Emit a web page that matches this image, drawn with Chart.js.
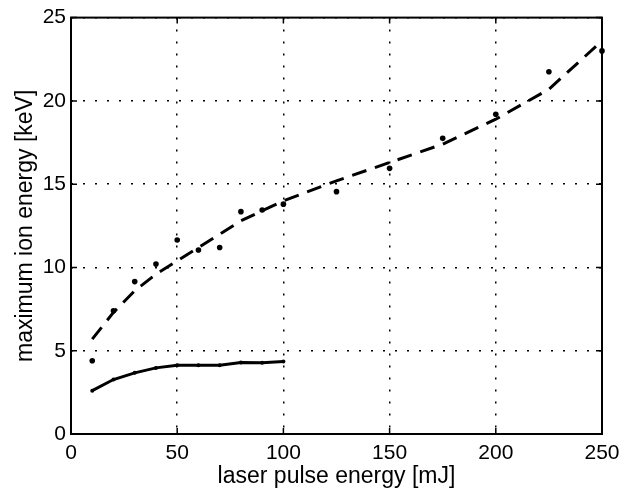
<!DOCTYPE html>
<html>
<head>
<meta charset="utf-8">
<script src="https://cdn.jsdelivr.net/npm/chart.js@4/dist/chart.umd.min.js"></script>
<style>
  html, body { margin: 0; padding: 0; background: #fff; }
  #wrap { width: 632px; height: 491px; }
</style>
</head>
<body>
<div id="wrap"><canvas id="chart" width="632" height="491"></canvas></div>
<script>
// measured points (dots)
let measX = [10, 20, 30, 40, 50, 60, 70, 80, 90, 100, 125, 150, 175, 200, 225, 250]
let measY = [4.4, 7.4, 9.15, 10.2, 11.65, 11.05, 11.2, 13.35, 13.45, 13.8, 14.55, 15.95, 17.75, 19.2, 21.75, 23.0]

// dashed fit curve
let fitX = [10, 20, 30, 40, 50, 60, 70, 80, 90, 100, 125, 150, 175, 200, 225, 250]
let fitY = [5.7, 7.3, 8.6, 9.6, 10.4, 11.2, 12.0, 12.8, 13.4, 14.0, 15.2, 16.3, 17.4, 18.9, 20.7, 23.6]

// solid line
let lowX = [10, 20, 30, 40, 50, 60, 70, 80, 90, 100]
let lowY = [2.6, 3.27, 3.67, 3.97, 4.13, 4.13, 4.13, 4.29, 4.28, 4.35]

let xTicks = [0, 50, 100, 150, 200, 250]
let yTicks = [0, 5, 10, 15, 20, 25]

const family = "'Liberation Sans', Arial, Helvetica, sans-serif"
const tickFont = { family: family, size: 21 }
const titleFont = { family: family, size: 23 }

function pts(xs, ys) {
    return xs.map((x, i) => ({ x: x, y: ys[i] }))
}

const boxPlugin = {
    id: 'box',
    afterDraw(chart) {
        const ctx = chart.ctx
        const a = chart.chartArea
        const xs = chart.scales.x
        const ys = chart.scales.y
        ctx.save()
        ctx.strokeStyle = '#000'
        ctx.lineWidth = 2
        ctx.setLineDash([])
        ctx.strokeRect(a.left, a.top, a.right - a.left, a.bottom - a.top)
        ctx.lineWidth = 1.5
        ctx.beginPath()
        xTicks.forEach(v => {
            const px = xs.getPixelForValue(v)
            ctx.moveTo(px, a.bottom); ctx.lineTo(px, a.bottom - 6)
            ctx.moveTo(px, a.top); ctx.lineTo(px, a.top + 6)
        })
        yTicks.forEach(v => {
            const py = ys.getPixelForValue(v)
            ctx.moveTo(a.left, py); ctx.lineTo(a.left + 6, py)
            ctx.moveTo(a.right, py); ctx.lineTo(a.right - 6, py)
        })
        ctx.stroke()
        ctx.restore()
    }
}

new Chart(document.getElementById('chart'), {
    type: 'scatter',
    data: {
        datasets: [
            {
                data: pts(fitX, fitY),
                showLine: true,
                borderColor: '#000',
                borderWidth: 3,
                borderDash: [15, 9],
                pointRadius: 0,
                tension: 0,
                fill: false
            },
            {
                data: pts(measX, measY),
                showLine: false,
                backgroundColor: '#000',
                borderColor: '#000',
                pointRadius: 2.8,
                pointBorderWidth: 0,
                clip: 6
            },
            {
                data: pts(lowX, lowY),
                showLine: true,
                borderColor: '#000',
                backgroundColor: '#000',
                borderWidth: 3,
                pointRadius: 2,
                pointBorderWidth: 0,
                tension: 0,
                fill: false
            }
        ]
    },
    options: {
        responsive: false,
        animation: false,
        devicePixelRatio: 1,
        layout: { padding: { top: 16, right: 30, left: 0, bottom: 0 } },
        plugins: {
            legend: { display: false },
            tooltip: { enabled: false }
        },
        scales: {
            x: {
                type: 'linear',
                min: 0,
                max: 250,
                afterFit: s => { s.height = 57 },
                afterBuildTicks: s => { s.ticks = xTicks.map(v => ({ value: v })) },
                ticks: { color: '#000', font: tickFont, padding: 7, maxRotation: 0 },
                grid: { color: '#000', lineWidth: 1.5, drawTicks: false },
                border: { display: false, dash: [2, 10] },
                title: {
                    display: true,
                    text: 'laser pulse energy [mJ]',
                    color: '#000',
                    font: titleFont,
                    padding: { top: 0, bottom: 1 }
                }
            },
            y: {
                type: 'linear',
                min: 0,
                max: 25,
                afterFit: s => { s.width = 71 },
                afterBuildTicks: s => { s.ticks = yTicks.map(v => ({ value: v })) },
                ticks: { color: '#000', font: tickFont, padding: 5 },
                grid: { color: '#000', lineWidth: 1.5, drawTicks: false },
                border: { display: false, dash: [2, 10] },
                title: {
                    display: true,
                    text: 'maximum ion energy [keV]',
                    color: '#000',
                    font: titleFont,
                    padding: { top: 12, bottom: 0 }
                }
            }
        }
    },
    plugins: [boxPlugin]
})
</script>
</body>
</html>
